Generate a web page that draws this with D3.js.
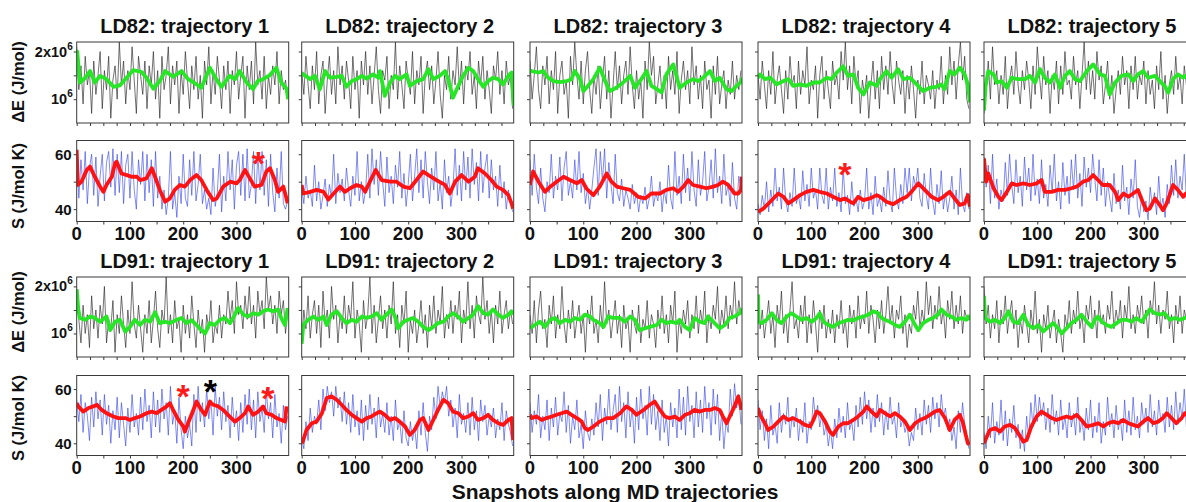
<!DOCTYPE html>
<html><head><meta charset="utf-8">
<script src="https://cdn.jsdelivr.net/npm/d3@7"></script>
<style>
body{margin:0;background:#fff}
svg{display:block}
text{font-family:"Liberation Sans",Arial,sans-serif;font-weight:bold;fill:#111}
</style>
</head><body>
<svg id="chart" width="1186" height="502"></svg>
<script>
// ---------------- DATA ----------------
const systems = ["LD82", "LD91"];
const trajectories = [1, 2, 3, 4, 5];
const snapshotStep = 4;            // raw series sampled every 4 snapshots (0..396)
const xTickLabels = [0, 100, 200, 300];
const dETickValues = [1, 1.5, 2];  // units of 10^6 J/mol
const dETickLabels = [{v: 2, base: "2x10", exp: "6"}, {v: 1, base: "10", exp: "6"}];
const sTickValues = [40, 50, 60];
const sTickLabels = [40, 60];

// raw ΔE (units of 10^6 J/mol)
const ld82_dE_1 = [2.1,1.2,1.7,0.9,1.9,1.3,1.6,0.7,1.8,1.1, 1.5,2.0,0.8,1.6,1.2,1.9,0.6,1.4,1.7,1.0, 2.2,1.3,1.8,0.9,1.6,1.2,2.1,1.4,0.7,1.9, 1.5,1.1,1.8,0.8,1.7,1.3,2.0,1.0,1.6,0.6, 1.9,1.2,1.5,2.1,0.9,1.7,1.3,1.8,0.7,1.6, 1.1,2.0,1.4,0.8,1.7,1.2,1.9,1.0,1.5,0.6, 1.8,1.3,2.1,0.9,1.6,1.1,1.9,1.4,0.8,1.7, 1.2,1.8,0.7,1.6,1.3,2.0,1.0,1.5,1.9,0.6, 1.7,1.2,1.8,0.9,2.2,1.3,1.6,1.0,1.9,0.8, 1.5,1.1,1.7,1.3,2.0,0.9,1.6,1.2,1.4,1.0];
const ld82_dE_2 = [1.6,1.1,1.9,1.3,0.8,1.7,1.2,2.0,0.9,1.5, 1.8,0.7,1.4,1.9,1.1,1.6,0.9,2.1,1.3,1.7, 1.0,1.8,1.4,0.8,1.9,1.2,1.6,0.6,1.8,1.3, 2.0,1.1,1.7,0.9,1.5,2.1,1.2,0.7,1.6,1.4, 1.9,0.8,1.5,1.2,2.2,1.0,1.7,1.3,0.8,1.8, 1.4,1.1,2.0,0.9,1.6,1.3,1.9,0.7,1.5,1.8, 1.2,1.7,0.9,1.4,2.0,1.1,0.6,1.5,1.2,1.9, 1.0,1.6,1.3,2.1,1.2,1.8,0.9,1.7,1.4,2.0, 1.1,1.5,0.8,1.8,1.3,1.9,1.0,1.6,1.2,0.7, 1.7,1.4,2.0,1.1,1.6,0.9,1.8,1.3,1.5,0.8];
const ld82_dE_3 = [1.8,1.0,1.5,2.1,1.2,0.8,1.7,1.3,1.9,0.9, 1.6,1.2,2.0,0.7,1.5,1.8,1.1,1.4,0.6,1.9, 1.3,2.2,1.5,1.0,1.8,0.9,1.6,2.0,1.2,0.7, 1.5,1.1,1.7,0.8,1.4,1.9,1.0,1.6,0.6,1.3, 2.0,1.2,1.7,0.9,1.5,1.8,1.1,2.1,1.3,0.8, 1.6,1.0,1.4,0.6,1.8,1.2,2.2,1.5,1.9,0.9, 1.3,1.7,1.0,1.5,0.8,1.9,1.2,1.6,1.1,2.0, 0.7,1.4,1.8,1.2,1.6,0.9,2.1,1.3,1.7,1.0, 1.5,0.8,1.8,1.2,1.4,0.6,1.7,1.1,1.9,0.9, 1.3,1.6,0.8,1.4,1.1,1.8,1.0,1.5,1.2,1.6];
const ld82_dE_4 = [1.5,1.0,1.8,1.3,0.8,1.6,1.1,2.0,0.9,1.4, 1.7,1.2,0.7,1.6,1.0,1.9,1.3,1.5,0.8,1.8, 1.1,1.6,1.3,2.1,0.9,1.4,1.2,1.7,0.6,1.5, 1.9,1.0,1.6,1.2,0.8,1.8,1.3,1.5,1.0,2.0, 1.4,2.2,1.2,1.7,0.9,1.9,1.3,1.6,0.7,1.4, 1.1,1.5,0.6,1.3,1.8,1.0,1.6,0.8,1.9,1.2, 1.7,1.1,2.0,1.3,0.9,1.8,1.4,1.1,1.6,0.7, 1.5,1.0,1.7,1.2,0.6,1.4,1.1,1.8,0.9,1.5, 1.3,1.0,1.6,0.8,1.4,1.2,1.9,0.9,1.5,1.1, 2.1,1.3,1.8,1.0,1.7,2.2,1.4,1.9,1.0,0.8];
const ld82_dE_5 = [0.7,1.2,1.8,1.0,2.1,1.3,1.6,0.9,1.5,1.1, 1.9,0.8,1.4,1.7,1.1,2.0,1.3,0.9,1.6,1.2, 1.8,1.4,0.8,1.7,1.1,2.1,1.5,1.0,1.9,1.3, 1.6,0.7,1.5,1.2,1.8,0.9,1.7,1.1,2.0,1.3, 1.4,1.0,1.9,1.3,1.6,0.8,1.5,2.2,1.2,1.8, 1.1,1.6,1.0,2.0,1.4,1.7,0.9,1.3,1.8,1.0, 1.5,0.7,1.2,1.6,1.1,1.9,1.3,1.6,0.8,1.7, 1.2,1.9,1.0,1.5,1.3,1.8,0.9,1.6,1.1,1.4, 0.8,1.7,1.2,2.0,1.0,1.5,0.7,1.3,1.6,1.1, 1.9,1.2,1.5,0.9,1.7,1.3,1.8,1.1,1.4,1.0];
const ld91_dE_1 = [1.9,1.3,0.8,1.6,1.0,1.4,0.7,1.8,1.1,1.5, 0.9,1.6,1.2,2.0,0.8,1.3,1.1,1.7,0.6,1.4, 1.0,1.8,1.2,0.7,1.5,1.0,2.1,1.2,0.9,1.6, 1.1,0.6,1.4,1.0,1.7,0.8,1.3,1.9,1.1,0.7, 1.5,1.2,2.2,1.0,1.4,0.8,1.7,1.1,1.3,0.6, 1.6,1.0,1.4,0.9,1.8,1.2,0.7,1.5,1.0,1.3, 0.6,1.4,1.1,1.7,0.8,1.2,1.0,1.6,0.9,1.4, 1.2,1.9,1.3,1.7,1.0,2.1,1.4,1.6,1.1,1.8, 1.3,2.0,1.2,1.6,0.9,1.9,1.4,1.7,1.1,2.2, 1.5,1.8,1.2,1.6,1.0,1.9,1.4,1.7,1.0,1.5];
const ld91_dE_2 = [0.8,1.5,1.1,1.8,0.9,1.4,1.7,1.0,1.6,0.7, 1.9,1.2,1.5,0.9,2.0,1.3,1.6,0.8,1.4,1.1, 1.8,1.0,1.6,1.3,2.1,0.9,1.5,1.2,0.6,1.7, 1.1,1.4,2.2,1.0,1.6,0.8,1.3,1.8,1.1,1.5, 0.9,1.6,1.2,2.1,1.0,1.4,0.7,1.6,1.2,1.9, 0.6,1.3,1.0,1.5,0.8,1.2,1.7,1.0,1.4,0.7, 1.6,1.1,1.8,1.0,1.5,1.2,2.0,0.9,1.4,1.1, 1.7,1.0,1.6,1.3,1.9,0.8,1.5,1.2,2.1,1.1, 1.6,0.9,1.8,1.4,1.2,2.2,1.3,1.7,1.0,1.5, 0.8,1.6,1.2,1.9,1.0,1.4,1.7,1.1,1.5,1.2];
const ld91_dE_3 = [1.4,1.0,1.7,0.8,1.5,1.9,1.1,1.3,0.7,1.6, 1.2,1.8,0.9,1.4,1.1,2.0,1.2,0.8,1.5,1.1, 1.7,0.9,1.3,1.6,1.0,1.4,0.6,1.5,1.2,1.8, 1.0,1.3,0.8,1.6,1.1,2.1,1.2,1.5,0.9,1.3, 1.7,1.0,1.4,0.7,1.6,1.1,1.3,0.6,1.5,1.2, 1.0,1.6,0.8,1.3,1.1,1.7,0.9,1.4,1.2,0.7, 1.5,1.1,1.8,1.0,1.4,0.8,1.6,1.2,1.9,0.6, 1.3,1.0,1.5,1.2,1.7,0.9,1.4,1.1,1.8,1.0, 1.5,1.2,1.9,0.8,1.4,1.1,1.6,1.3,2.0,1.0, 1.5,1.2,1.8,1.1,1.6,1.3,2.1,1.2,1.7,1.4];
const ld91_dE_4 = [1.8,1.1,1.5,0.9,1.3,1.7,1.0,1.4,0.7,1.6, 1.2,1.9,1.0,1.4,0.8,1.5,2.1,1.1,1.3,0.9, 1.6,1.2,1.8,0.8,1.4,1.0,1.7,1.2,0.6,1.5, 1.1,1.6,0.9,1.3,1.0,1.5,0.8,1.4,1.1,1.7, 1.0,1.3,0.7,1.6,1.2,1.5,0.9,1.8,1.1,1.4, 1.2,1.9,1.0,1.6,1.3,0.8,1.5,1.1,1.7,1.0, 1.4,2.0,1.2,1.6,0.9,1.5,1.3,1.8,1.0,1.4, 0.7,1.2,1.0,1.6,1.3,1.9,1.1,1.5,1.2,2.1, 1.4,1.8,1.1,1.6,1.3,2.0,1.2,1.5,0.9,1.7, 1.3,1.9,1.1,1.6,1.2,1.8,1.0,1.5,1.3,1.4];
const ld91_dE_5 = [2.0,1.2,1.6,0.9,1.4,1.1,1.7,0.8,1.5,1.2, 1.8,1.0,1.4,1.7,1.1,1.5,0.7,1.3,1.0,1.6, 1.2,0.8,1.5,1.1,1.9,1.0,1.3,0.6,1.4,1.1, 1.6,0.9,1.2,1.5,0.8,1.3,1.0,0.6,1.4,1.1, 1.7,1.0,1.5,1.2,1.9,1.1,1.4,0.8,1.6,1.3, 1.8,1.1,1.5,0.9,1.7,1.2,1.4,1.0,1.6,1.3, 1.9,1.1,1.5,1.2,1.7,0.9,1.6,1.3,2.0,1.1, 1.4,1.0,1.6,1.3,1.8,1.2,1.5,0.9,1.7,1.4, 2.1,1.2,1.6,1.0,1.5,1.3,1.9,1.1,1.4,0.8, 1.6,1.2,1.8,1.0,1.5,1.3,2.0,1.1,1.4,1.2];

// raw S (J/mol K)
const ld82_S_1 = [62,44,58,47,61,42,55,60,45,59, 41,52,60,43,57,61,48,62,45,60, 46,61,42,56,60,44,61,47,40,58, 49,61,43,60,46,58,41,61,44,52, 40,47,38,44,61,40,46,37,52,42, 60,44,41,58,45,61,43,49,60,42, 47,40,44,38,55,41,46,60,39,52, 43,61,47,58,40,56,61,45,60,43, 62,44,49,61,42,60,47,61,45,58, 41,60,46,39,55,44,61,42,40,43];
const ld82_S_2 = [48,42,52,44,47,41,56,43,50,40, 45,51,41,49,44,60,42,53,46,51, 43,55,47,41,52,45,61,43,50,42, 47,60,44,62,49,58,45,61,50,41, 59,46,52,42,56,48,61,44,53,41, 49,60,43,52,62,46,58,44,61,50, 42,55,47,61,43,50,40,58,46,52, 41,48,62,45,56,43,61,47,59,44, 62,49,57,43,61,46,55,60,44,58, 47,52,41,56,44,50,40,47,43,39];
const ld82_S_3 = [58,45,60,48,42,55,44,39,50,46, 60,44,52,47,59,43,55,61,45,50, 44,58,47,61,46,53,42,48,40,47, 55,62,45,61,50,62,44,57,49,42, 60,46,43,51,41,47,44,40,49,42, 46,39,45,42,48,40,44,52,41,46, 43,50,39,47,42,56,44,40,61,45, 52,42,60,46,55,43,61,47,41,58, 45,50,61,43,48,58,44,62,46,52, 42,60,45,49,41,57,44,40,52,48];
const ld82_S_4 = [42,38,45,40,50,39,47,41,55,43, 48,40,55,43,39,46,41,55,42,45, 40,54,43,49,41,55,44,47,40,55, 45,42,55,40,48,43,55,41,46,39, 55,42,45,38,50,41,44,39,47,40, 43,55,40,46,38,52,41,44,39,48, 41,54,43,39,55,44,40,49,42,55, 46,55,43,52,48,55,44,41,53,45, 40,55,43,38,49,42,54,40,46,39, 44,52,40,47,38,55,42,39,46,40];
const ld82_S_5 = [59,48,56,42,60,44,51,40,47,43, 57,45,60,49,42,58,46,52,41,59, 47,55,43,60,45,51,42,58,44,49, 41,56,46,60,43,50,40,57,45,52, 42,58,47,60,44,53,41,59,48,55, 46,60,51,43,58,45,55,41,50,44, 39,53,42,47,40,56,43,48,38,51, 44,58,41,37,45,39,43,36,48,41, 46,38,52,40,44,37,49,42,56,45, 58,44,52,47,60,43,50,41,48,45];
const ld91_S_1 = [56,48,58,44,55,50,41,57,46,59, 49,56,43,58,47,54,40,52,45,57, 42,55,47,39,53,44,58,46,51,43, 57,45,60,48,54,42,59,46,56,44, 60,49,55,43,61,47,52,40,57,45, 38,50,42,47,39,58,44,61,48,55, 46,60,49,56,43,61,50,57,45,59, 48,54,42,57,46,52,41,55,44,58, 47,60,45,56,42,59,48,53,44,60, 49,55,42,58,46,51,40,54,45,50];
const ld91_S_2 = [42,38,48,41,53,44,50,47,56,45, 60,52,61,55,59,50,61,53,57,48, 59,47,55,44,58,46,52,43,56,41, 54,45,58,47,53,42,57,46,51,44, 55,43,50,41,56,45,48,40,52,42, 39,48,41,46,38,52,43,55,44,37, 50,45,57,49,61,53,59,55,61,50, 56,46,53,42,58,47,51,44,55,43, 57,45,52,41,56,48,54,43,50,46, 53,42,49,45,55,41,52,47,44,39];
const ld91_S_3 = [55,44,52,47,58,42,50,45,56,41, 53,46,57,43,51,48,59,44,54,40, 50,45,56,42,47,38,52,44,41,49, 43,55,46,58,41,53,47,60,45,52, 58,44,61,48,55,42,59,46,53,40, 57,45,60,49,54,43,61,47,58,45, 52,41,56,44,50,39,55,46,53,42, 60,45,57,43,61,48,54,42,59,46, 56,44,61,49,55,43,60,47,58,41, 52,38,48,44,60,50,62,53,58,47];
const ld91_S_4 = [56,45,52,41,49,38,54,43,47,40, 55,44,51,47,57,42,50,46,53,41, 49,44,55,40,48,45,57,49,54,46, 51,43,47,39,45,38,49,42,53,44, 50,42,55,45,48,41,54,46,57,47, 59,49,56,44,53,46,58,48,55,43, 52,45,57,47,50,42,55,46,49,44, 47,39,44,41,53,45,51,43,56,47, 54,44,57,49,55,46,58,50,53,45, 49,41,46,38,52,44,55,47,43,38];
const ld91_S_5 = [44,38,50,42,55,40,48,43,56,41, 52,39,49,44,54,42,47,38,45,37, 50,42,55,46,58,48,57,50,55,45, 53,44,58,47,52,43,56,45,50,42, 55,46,51,43,57,44,49,41,53,45, 56,42,50,44,55,40,48,43,57,46, 51,42,54,45,49,41,56,44,52,43, 57,45,50,42,55,47,53,44,58,46, 52,43,56,48,51,44,57,46,54,45, 59,47,55,49,60,46,53,50,56,48];

// running averages [snapshot, value]
const ld82_dE_avg_1 = [[0,1.95],[1,2.0],[6,1.35],[16,1.45],[25,1.59],[34,1.35],[44,1.49],[56,1.42],[69,1.26],[81,1.29],[97,1.49],[106,1.61],[122,1.57],[131,1.45],[144,1.22],[156,1.38],[166,1.59],[181,1.47],[197,1.59],[209,1.42],[220,1.35],[234,1.24],[250,1.66],[262,1.42],[272,1.26],[287,1.49],[297,1.42],[306,1.59],[319,1.35],[331,1.21],[340,1.38],[350,1.42],[362,1.5],[375,1.66],[384,1.35],[394,1.22],[397,1.0]];
const ld82_dE_avg_2 = [[0,1.55],[3,1.52],[16,1.42],[25,1.49],[34,1.21],[44,1.59],[53,1.45],[66,1.47],[75,1.49],[84,1.26],[94,1.38],[103,1.42],[113,1.49],[122,1.43],[134,1.52],[144,1.45],[147,1.59],[156,1.07],[166,1.35],[175,1.49],[184,1.42],[197,1.52],[203,1.28],[216,1.38],[228,1.42],[238,1.63],[247,1.42],[259,1.49],[269,1.59],[275,1.42],[284,1.03],[294,1.28],[303,1.49],[313,1.66],[322,1.59],[331,1.42],[341,1.26],[350,1.38],[359,1.45],[369,1.42],[378,1.31],[388,1.49],[394,1.56],[398,0.86]];
const ld82_dE_avg_3 = [[0,1.6],[3,1.59],[16,1.56],[25,1.59],[34,1.45],[44,1.38],[56,1.36],[69,1.38],[78,1.42],[84,1.59],[94,1.42],[100,1.17],[106,1.24],[119,1.42],[131,1.66],[141,1.38],[150,1.17],[162,1.24],[175,1.35],[188,1.49],[197,1.24],[209,1.42],[219,1.59],[228,1.28],[238,1.21],[247,1.14],[256,1.52],[269,1.73],[281,1.24],[294,1.35],[306,1.42],[316,1.38],[325,1.45],[338,1.59],[347,1.38],[356,1.45],[369,1.21],[378,1.17],[388,1.28],[396,1.36],[398,1.45]];
const ld82_dE_avg_4 = [[0,1.45],[4,1.52],[13,1.42],[23,1.45],[35,1.31],[48,1.38],[57,1.42],[66,1.28],[79,1.31],[91,1.28],[104,1.35],[116,1.35],[129,1.45],[138,1.42],[148,1.56],[160,1.69],[169,1.49],[179,1.52],[188,1.24],[198,1.10],[210,1.35],[223,1.28],[229,1.42],[241,1.59],[251,1.45],[263,1.63],[273,1.42],[285,1.45],[298,1.31],[310,1.17],[323,1.24],[335,1.26],[344,1.31],[350,1.21],[360,1.59],[369,1.52],[379,1.66],[388,1.52],[394,1.31],[398,0.93]];
const ld82_dE_avg_5 = [[0,0.76],[3,1.28],[8,1.59],[18,1.52],[24,1.35],[33,1.38],[43,1.24],[52,1.45],[64,1.42],[77,1.42],[86,1.49],[96,1.35],[105,1.63],[114,1.45],[124,1.35],[133,1.52],[143,1.24],[152,1.49],[161,1.59],[171,1.42],[180,1.38],[193,1.59],[205,1.73],[218,1.52],[227,1.49],[236,1.10],[246,1.35],[258,1.49],[271,1.52],[280,1.38],[289,1.52],[299,1.59],[308,1.45],[321,1.49],[330,1.38],[339,1.28],[346,1.14],[355,1.42],[364,1.52],[374,1.45],[379,1.49],[388,1.45],[396,1.4]];
const ld82_S_avg_1 = [[0,61.6],[2,48.8],[9,50.0],[19,54.3],[25,55.5],[34,51.8],[44,48.2],[50,46.3],[56,48.8],[66,51.8],[72,56.7],[75,57.3],[84,53.0],[94,52.4],[103,51.8],[113,51.8],[119,50.6],[131,51.2],[141,54.9],[147,51.8],[156,47.0],[166,42.7],[175,43.9],[184,47.0],[194,48.8],[203,48.2],[213,50.6],[225,52.4],[234,50.6],[244,47.0],[256,43.3],[263,43.9],[275,48.2],[288,50.0],[300,49.4],[306,50.6],[316,54.3],[325,51.2],[334,48.2],[347,48.8],[356,53.7],[363,54.9],[372,50.6],[378,46.3],[388,48.2],[393,44.5],[396,42.1]];
const ld82_S_avg_2 = [[0,48.8],[3,45.7],[16,46.3],[28,47.0],[41,46.3],[50,43.5],[63,46.3],[72,48.2],[81,46.3],[91,47.6],[103,48.8],[113,48.2],[119,46.3],[128,50.0],[139,54.3],[150,50.6],[166,50.0],[178,50.0],[191,48.2],[203,47.6],[213,50.0],[228,53.7],[238,52.4],[253,50.6],[269,48.8],[278,45.7],[288,50.0],[300,52.4],[313,50.0],[325,51.8],[331,54.9],[344,53.0],[356,50.6],[366,48.2],[378,47.0],[388,45.1],[394,42.1],[397,40.2]];
const ld82_S_avg_3 = [[0,48.8],[1,50],[6,53.7],[16,50.0],[28,46.3],[38,48.2],[50,50.0],[63,51.8],[75,50.6],[88,49.4],[97,50.6],[106,47.5],[119,45.1],[131,48.2],[144,53.0],[153,50.0],[163,48.2],[175,47.6],[188,47.0],[203,44.5],[216,43.9],[228,45.7],[244,45.7],[256,47.0],[269,47.6],[278,46.3],[288,48.2],[297,50.6],[306,48.8],[319,48.2],[331,47.6],[344,48.2],[353,48.8],[362,50.0],[372,48.8],[384,45.7],[391,45.7],[396,47.0],[398,51.8]];
const ld82_S_avg_4 = [[0,39.0],[10,40.2],[23,42.7],[38,45.7],[48,44.5],[57,42.1],[66,43.3],[79,45.1],[91,46.3],[104,47.0],[116,46.3],[129,45.7],[141,44.5],[154,43.3],[163,43.9],[173,42.7],[179,42.1],[188,44.5],[198,43.3],[210,43.9],[223,45.1],[229,44.5],[241,42.7],[254,41.8],[266,43.3],[279,44.5],[288,46.3],[301,49.4],[313,47.0],[326,44.5],[338,43.3],[348,44.5],[360,46.3],[369,43.9],[379,41.5],[388,42.1],[394,45.1],[398,40.9]];
const ld82_S_avg_5 = [[0,58.5],[4,50.0],[8,53.0],[18,47.6],[27,44.5],[33,43.3],[43,46.3],[52,49.4],[61,48.8],[74,49.4],[86,48.8],[99,49.4],[108,50.6],[114,46.3],[127,46.3],[139,47.0],[152,47.0],[164,47.6],[174,48.2],[186,50.0],[196,50.6],[205,52.4],[214,50.6],[223,48.8],[236,48.8],[246,46.3],[252,43.3],[262,45.7],[271,44.5],[280,45.7],[289,47.0],[299,42.1],[305,39.6],[311,40.2],[321,43.9],[330,41.5],[336,39.6],[343,42.1],[355,48.8],[364,47.0],[374,44.5],[379,45.7],[388,44.5],[396,45.0]];
const ld91_dE_avg_1 = [[0,1.94],[3,1.51],[6,1.33],[16,1.29],[25,1.36],[34,1.33],[44,1.25],[56,1.36],[63,1.07],[72,1.25],[81,1.29],[91,1.04],[100,1.14],[109,1.29],[119,1.18],[128,1.29],[138,1.25],[147,1.45],[156,1.22],[166,1.25],[175,1.22],[188,1.29],[197,1.33],[206,1.22],[216,1.28],[225,1.18],[234,1.07],[241,1.0],[250,1.22],[259,1.18],[269,1.29],[278,1.33],[288,1.22],[297,1.40],[303,1.54],[313,1.40],[322,1.36],[331,1.43],[341,1.40],[350,1.47],[359,1.51],[369,1.47],[378,1.51],[384,1.33],[391,1.18],[396,1.54]];
const ld91_dE_avg_2 = [[0,0.78],[3,1.18],[12,1.29],[22,1.36],[31,1.29],[41,1.36],[47,1.18],[56,1.40],[66,1.47],[75,1.33],[84,1.22],[94,1.29],[103,1.25],[113,1.36],[122,1.33],[131,1.36],[141,1.43],[150,1.29],[159,1.40],[169,1.51],[175,1.36],[181,1.11],[191,1.25],[200,1.29],[209,1.33],[219,1.25],[228,1.14],[238,1.07],[247,1.14],[256,1.22],[266,1.25],[275,1.36],[284,1.43],[294,1.36],[303,1.25],[313,1.33],[322,1.40],[331,1.58],[341,1.43],[350,1.40],[359,1.51],[369,1.40],[378,1.33],[388,1.40],[394,1.47],[397,1.40]];
const ld91_dE_avg_3 = [[0,1.11],[9,1.18],[19,1.25],[28,1.14],[38,1.29],[47,1.33],[56,1.22],[66,1.29],[75,1.25],[84,1.33],[94,1.29],[103,1.40],[113,1.36],[119,1.29],[131,1.22],[138,1.14],[147,1.36],[156,1.33],[169,1.33],[178,1.25],[188,1.36],[197,1.29],[206,1.07],[216,1.11],[225,1.14],[238,1.18],[247,1.29],[256,1.22],[266,1.25],[275,1.22],[281,1.29],[291,1.14],[300,1.07],[309,1.33],[319,1.25],[328,1.22],[334,1.36],[344,1.25],[356,1.11],[366,1.18],[375,1.33],[384,1.36],[394,1.43],[397,1.54]];
const ld91_dE_avg_4 = [[0,1.83],[1,1.25],[7,1.22],[16,1.29],[26,1.43],[35,1.29],[44,1.22],[54,1.36],[63,1.43],[72,1.36],[82,1.29],[91,1.33],[101,1.25],[110,1.33],[116,1.43],[123,1.25],[132,1.18],[141,1.14],[151,1.22],[160,1.25],[169,1.29],[179,1.28],[188,1.33],[198,1.36],[207,1.40],[216,1.47],[226,1.43],[229,1.36],[238,1.29],[248,1.25],[257,1.18],[266,1.14],[276,1.25],[285,1.40],[295,1.18],[301,1.07],[310,1.22],[320,1.29],[329,1.33],[338,1.40],[344,1.51],[354,1.40],[363,1.36],[373,1.29],[382,1.33],[391,1.29],[394,1.36],[398,1.29]];
const ld91_dE_avg_5 = [[0,1.80],[2,1.33],[11,1.25],[21,1.29],[30,1.22],[39,1.33],[46,1.47],[55,1.25],[64,1.22],[74,1.40],[83,1.18],[93,1.11],[102,1.18],[111,1.04],[121,1.14],[130,1.22],[139,1.11],[146,1.0],[155,1.11],[164,1.22],[174,1.29],[183,1.40],[193,1.25],[202,1.14],[208,1.29],[214,1.36],[221,1.25],[230,1.18],[239,1.14],[249,1.22],[258,1.29],[268,1.29],[277,1.25],[286,1.33],[296,1.25],[305,1.40],[311,1.51],[321,1.43],[330,1.40],[339,1.43],[349,1.29],[358,1.33],[368,1.29],[377,1.33],[388,1.35],[396,1.38]];
const ld91_S_avg_1 = [[0,54.8],[3,53.6],[12,51.7],[22,53.0],[31,53.6],[38,54.2],[47,52.3],[56,51.1],[69,49.9],[78,49.3],[91,49.3],[100,48.6],[109,49.3],[119,49.9],[131,51.1],[141,51.7],[150,51.1],[159,52.3],[169,53.6],[175,54.8],[181,52.3],[191,48.6],[200,46.2],[203,44.3],[209,47.4],[219,52.3],[225,55.4],[234,52.3],[241,50.5],[250,55.4],[256,54.2],[266,53.6],[275,52.3],[284,50.5],[297,48.0],[306,49.3],[316,51.1],[322,53.6],[331,50.5],[341,51.7],[350,53.6],[356,51.1],[366,50.5],[375,49.3],[384,48.6],[391,48.0],[394,53.6]];
const ld91_S_avg_2 = [[0,40.0],[3,41.2],[9,44.9],[19,47.4],[28,48.0],[38,51.1],[47,56.7],[56,57.3],[66,56.0],[75,54.2],[84,52.3],[94,50.5],[103,49.3],[113,48.0],[122,49.3],[131,49.9],[141,51.1],[147,51.7],[156,50.5],[166,48.6],[175,49.3],[184,48.0],[194,46.2],[203,43.1],[212,44.9],[222,48.6],[228,49.3],[238,44.9],[247,48.6],[256,52.3],[266,56.0],[275,54.8],[284,51.7],[294,51.1],[303,49.3],[313,49.9],[322,51.1],[331,48.6],[341,49.3],[350,50.5],[359,48.6],[369,47.4],[378,46.8],[388,48.6],[394,49.3],[397,41.2]];
const ld91_S_avg_3 = [[0,50.5],[3,49.3],[12,49.9],[22,48.6],[31,49.3],[41,49.9],[50,50.5],[59,51.1],[69,51.7],[78,50.5],[88,49.3],[97,48.0],[103,45.6],[109,44.9],[119,46.2],[131,48.0],[144,49.3],[156,49.3],[169,51.1],[181,53.6],[191,52.3],[200,50.5],[213,52.3],[225,54.2],[234,55.4],[244,52.3],[253,49.9],[262,49.3],[272,49.9],[281,48.6],[291,50.5],[300,51.1],[309,52.3],[319,51.7],[328,52.3],[338,52.3],[347,53.0],[356,52.3],[362,49.9],[369,47.4],[375,49.9],[384,53.6],[391,57.3],[395,54.2],[397,52.3]];
const ld91_S_avg_4 = [[0,53.0],[4,50.5],[13,47.4],[19,44.9],[29,46.2],[38,48.0],[48,49.9],[57,48.6],[66,49.3],[79,48.0],[88,46.8],[98,46.2],[104,48.6],[110,51.7],[116,51.1],[126,48.0],[135,44.3],[141,43.1],[151,46.2],[160,47.4],[169,47.4],[179,48.6],[188,49.9],[198,51.7],[204,53.6],[213,51.7],[223,49.9],[229,52.3],[238,51.1],[248,49.9],[257,51.1],[266,49.9],[276,48.0],[285,44.9],[295,47.4],[304,48.6],[313,49.3],[323,50.5],[332,51.7],[341,52.3],[351,49.3],[360,44.9],[369,48.6],[379,50.5],[385,47.4],[390,43.1],[394,40.0],[397,39.5]];
const ld91_S_avg_5 = [[0,40.0],[4,41.9],[11,44.9],[21,45.6],[30,44.3],[39,46.2],[49,46.8],[58,45.6],[68,42.5],[74,40.6],[80,41.2],[89,46.2],[99,49.9],[108,51.7],[118,50.5],[127,49.3],[136,48.6],[146,49.3],[155,49.9],[164,49.3],[174,50.5],[183,48.6],[193,46.2],[205,46.8],[214,47.4],[224,46.2],[233,47.4],[243,48.0],[252,47.4],[261,48.6],[271,47.4],[280,46.8],[289,46.2],[299,48.0],[308,49.3],[318,47.4],[327,48.0],[336,49.3],[343,51.1],[352,49.3],[361,47.4],[371,49.3],[377,51.1],[388,49.5],[396,50.0]];

// highlighted snapshots (asterisks): [system, trajectory, snapshot, S value, colour key]
const markers = [["LD82",1,341,59.3,"red"],["LD82",4,163,55.3,"red"],["LD91",1,200,59.9,"red"],["LD91",1,251,61.7,"black"],["LD91",1,359,59.3,"red"]];

// ---------------- DRAWING ----------------
const rawDE = {LD82:[ld82_dE_1,ld82_dE_2,ld82_dE_3,ld82_dE_4,ld82_dE_5], LD91:[ld91_dE_1,ld91_dE_2,ld91_dE_3,ld91_dE_4,ld91_dE_5]};
const rawS  = {LD82:[ld82_S_1,ld82_S_2,ld82_S_3,ld82_S_4,ld82_S_5], LD91:[ld91_S_1,ld91_S_2,ld91_S_3,ld91_S_4,ld91_S_5]};
const avgDE = {LD82:[ld82_dE_avg_1,ld82_dE_avg_2,ld82_dE_avg_3,ld82_dE_avg_4,ld82_dE_avg_5], LD91:[ld91_dE_avg_1,ld91_dE_avg_2,ld91_dE_avg_3,ld91_dE_avg_4,ld91_dE_avg_5]};
const avgS  = {LD82:[ld82_S_avg_1,ld82_S_avg_2,ld82_S_avg_3,ld82_S_avg_4,ld82_S_avg_5], LD91:[ld91_S_avg_1,ld91_S_avg_2,ld91_S_avg_3,ld91_S_avg_4,ld91_S_avg_5]};

const svg = d3.select("#chart");
const W = 212;
const colX = [76.7, 301.7, 530, 758, 984];
const rowTop = [42, 140.5, 277, 375.5];
const rowH = [81, 81, 80, 80];
const titleY = [33, 268];
const x = d3.scaleLinear().domain([0, 398]).range([0, W]);

svg.append("defs").append("clipPath").attr("id","clip")
  .append("rect").attr("x",0).attr("y",0).attr("width",W).attr("height",81);

const markerColor = {red:"#ff1a1a", black:"#000"};

for (let r = 0; r < 4; r++) {
  const sys = systems[r < 2 ? 0 : 1];
  const kind = r % 2 === 0 ? "dE" : "S";
  const H = rowH[r];
  const y = kind === "dE"
    ? d3.scaleLinear().domain([0.5, 2.2]).range([H, 0])
    : d3.scaleLinear().domain([35.5, 65]).range([H, 0]);

  trajectories.forEach((tr, c) => {
    const g = svg.append("g").attr("transform", `translate(${colX[c]},${rowTop[r]})`);
    const raw = kind === "dE" ? rawDE[sys][c] : rawS[sys][c];
    const avg = kind === "dE" ? avgDE[sys][c] : avgS[sys][c];

    const plot = g.append("g").attr("clip-path","url(#clip)");
    plot.append("path").datum(raw)
      .attr("d", d3.line().x((d,i)=>x(i*snapshotStep)).y(d=>y(d)))
      .attr("fill","none")
      .attr("stroke", kind === "dE" ? "#222" : "#2f3fe6")
      .attr("stroke-width", 0.8)
      .attr("stroke-opacity", kind === "dE" ? 0.8 : 0.75);
    plot.append("path").datum(avg)
      .attr("d", d3.line().x(d=>x(d[0])).y(d=>y(d[1])))
      .attr("fill","none")
      .attr("stroke", kind === "dE" ? "#26e626" : "#ff1212")
      .attr("stroke-width", 3.8)
      .attr("stroke-linejoin","round");

    // frame
    g.append("rect").attr("width",W).attr("height",H)
      .attr("fill","none").attr("stroke","#3a3a3a").attr("stroke-width",1);

    // left axis ticks
    const ya = d3.axisLeft(y).tickValues(kind === "dE" ? dETickValues : sTickValues)
      .tickSize(3).tickFormat("");
    const yg = g.append("g").call(ya);
    yg.select(".domain").remove();
    yg.selectAll("line").attr("stroke","#3a3a3a");

    // bottom axis ticks
    const xa = d3.axisBottom(x).tickValues(d3.range(0, 398, kind === "dE" ? 25 : 50))
      .tickSize(3).tickFormat("");
    const xg = g.append("g").attr("transform",`translate(0,${H})`).call(xa);
    xg.select(".domain").remove();
    xg.selectAll("line").attr("stroke","#3a3a3a");

    if (kind === "S") {
      g.selectAll("text.xl").data(xTickLabels).enter().append("text")
        .attr("class","xl").attr("x", d=>x(d)).attr("y", H + 18.5)
        .attr("text-anchor","middle").style("font-size","18.5px").text(d=>d);
    }

    if (c === 0) {
      if (kind === "dE") {
        dETickLabels.forEach(t => {
          const tx = g.append("text").attr("x",-4).attr("y", y(t.v) + 5)
            .attr("text-anchor","end").style("font-size","14.5px");
          tx.append("tspan").text(t.base);
          tx.append("tspan").attr("dy",-7).style("font-size","10px").text(t.exp);
        });
      } else {
        sTickLabels.forEach(v => {
          g.append("text").attr("x",-5).attr("y", y(v) + 5.5)
            .attr("text-anchor","end").style("font-size","15px").text(v);
        });
      }
    }

    if (kind === "dE") {
      svg.append("text").attr("x", colX[c] + W/2 + 2).attr("y", titleY[r === 0 ? 0 : 1])
        .attr("text-anchor","middle").style("font-size","20px")
        .text(`${sys}: trajectory ${tr}`);
    }

    if (kind === "S") {
      markers.filter(m => m[0] === sys && m[1] === tr).forEach(m => {
        g.append("text").attr("x", x(m[2])).attr("y", y(m[3]) + 19)
          .attr("text-anchor","middle").style("font-size","34px")
          .style("fill", markerColor[m[4]]).text("*");
      });
    }
  });
}

// y-axis titles
const yTitles = [["ΔE (J/mol)", 82], ["S (J/mol K)", 186], ["ΔE (J/mol)", 312], ["S (J/mol K)", 418]];
yTitles.forEach(([t, cy]) => {
  svg.append("text").attr("transform", `translate(24,${cy}) rotate(-90)`)
    .attr("text-anchor","middle").style("font-size","16.5px").text(t);
});

// x-axis title
svg.append("text").attr("x", 615).attr("y", 498.5).attr("text-anchor","middle")
  .style("font-size","21px").text("Snapshots along MD trajectories");
</script>
</body></html>
